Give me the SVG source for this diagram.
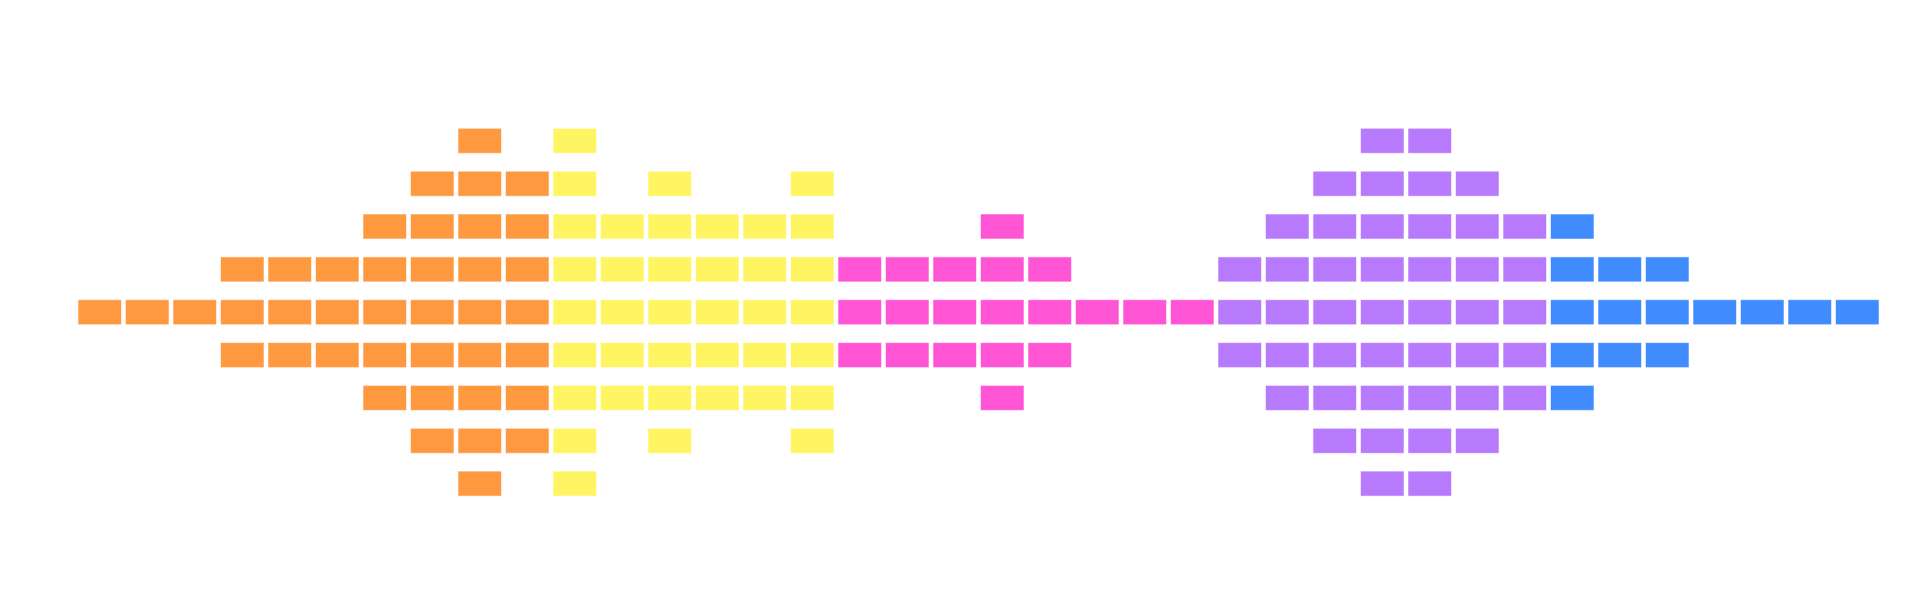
<svg xmlns="http://www.w3.org/2000/svg" width="1920" height="592" viewBox="0 0 1920 592">
<style>
rect{height:25px;width:43.5px;stroke:#fff;stroke-opacity:0.55;stroke-width:1}
.o{fill:#FF9940}.y{fill:#FFF562}.p{fill:#FF55D4}.v{fill:#B77AFC}.b{fill:#408CFF}
</style>
<rect x="0" y="0" width="1920" height="592" style="fill:#fff;stroke:none;width:1920px;height:592px"/>
<g id="orange" class="o">
<g transform="translate(0,128.3)"><rect x="458" class="o"/></g>
<g transform="translate(0,171.2)"><rect x="410.5" class="o"/><rect x="458" class="o"/><rect x="505.5" class="o"/></g>
<g transform="translate(0,214)"><rect x="363" class="o"/><rect x="410.5" class="o"/><rect x="458" class="o"/><rect x="505.5" class="o"/></g>
<g transform="translate(0,256.9)"><rect x="220.5" class="o"/><rect x="268" class="o"/><rect x="315.5" class="o"/><rect x="363" class="o"/><rect x="410.5" class="o"/><rect x="458" class="o"/><rect x="505.5" class="o"/></g>
<g transform="translate(0,299.7)"><rect x="78" class="o"/><rect x="125.5" class="o"/><rect x="173" class="o"/><rect x="220.5" class="o"/><rect x="268" class="o"/><rect x="315.5" class="o"/><rect x="363" class="o"/><rect x="410.5" class="o"/><rect x="458" class="o"/><rect x="505.5" class="o"/></g>
<g transform="translate(0,342.6)"><rect x="220.5" class="o"/><rect x="268" class="o"/><rect x="315.5" class="o"/><rect x="363" class="o"/><rect x="410.5" class="o"/><rect x="458" class="o"/><rect x="505.5" class="o"/></g>
<g transform="translate(0,385.4)"><rect x="363" class="o"/><rect x="410.5" class="o"/><rect x="458" class="o"/><rect x="505.5" class="o"/></g>
<g transform="translate(0,428.3)"><rect x="410.5" class="o"/><rect x="458" class="o"/><rect x="505.5" class="o"/></g>
<g transform="translate(0,471.1)"><rect x="458" class="o"/></g>
</g>
<g id="yellow">
<g transform="translate(0,128.3)"><rect x="553" class="y"/></g>
<g transform="translate(0,171.2)"><rect x="553" class="y"/><rect x="648" class="y"/><rect x="790.5" class="y"/></g>
<g transform="translate(0,214)"><rect x="553" class="y"/><rect x="600.5" class="y"/><rect x="648" class="y"/><rect x="695.5" class="y"/><rect x="743" class="y"/><rect x="790.5" class="y"/></g>
<g transform="translate(0,256.9)"><rect x="553" class="y"/><rect x="600.5" class="y"/><rect x="648" class="y"/><rect x="695.5" class="y"/><rect x="743" class="y"/><rect x="790.5" class="y"/></g>
<g transform="translate(0,299.7)"><rect x="553" class="y"/><rect x="600.5" class="y"/><rect x="648" class="y"/><rect x="695.5" class="y"/><rect x="743" class="y"/><rect x="790.5" class="y"/></g>
<g transform="translate(0,342.6)"><rect x="553" class="y"/><rect x="600.5" class="y"/><rect x="648" class="y"/><rect x="695.5" class="y"/><rect x="743" class="y"/><rect x="790.5" class="y"/></g>
<g transform="translate(0,385.4)"><rect x="553" class="y"/><rect x="600.5" class="y"/><rect x="648" class="y"/><rect x="695.5" class="y"/><rect x="743" class="y"/><rect x="790.5" class="y"/></g>
<g transform="translate(0,428.3)"><rect x="553" class="y"/><rect x="648" class="y"/><rect x="790.5" class="y"/></g>
<g transform="translate(0,471.1)"><rect x="553" class="y"/></g>
</g>
<g id="pink">
<g transform="translate(0,214)"><rect x="980.5" class="p"/></g>
<g transform="translate(0,256.9)"><rect x="838" class="p"/><rect x="885.5" class="p"/><rect x="933" class="p"/><rect x="980.5" class="p"/><rect x="1028" class="p"/></g>
<g transform="translate(0,299.7)"><rect x="838" class="p"/><rect x="885.5" class="p"/><rect x="933" class="p"/><rect x="980.5" class="p"/><rect x="1028" class="p"/><rect x="1075.5" class="p"/><rect x="1123" class="p"/><rect x="1170.5" class="p"/></g>
<g transform="translate(0,342.6)"><rect x="838" class="p"/><rect x="885.5" class="p"/><rect x="933" class="p"/><rect x="980.5" class="p"/><rect x="1028" class="p"/></g>
<g transform="translate(0,385.4)"><rect x="980.5" class="p"/></g>
</g>
<g id="purple">
<g transform="translate(0,128.3)"><rect x="1360.5" class="v"/><rect x="1408" class="v"/></g>
<g transform="translate(0,171.2)"><rect x="1313" class="v"/><rect x="1360.5" class="v"/><rect x="1408" class="v"/><rect x="1455.5" class="v"/></g>
<g transform="translate(0,214)"><rect x="1265.5" class="v"/><rect x="1313" class="v"/><rect x="1360.5" class="v"/><rect x="1408" class="v"/><rect x="1455.5" class="v"/><rect x="1503" class="v"/></g>
<g transform="translate(0,256.9)"><rect x="1218" class="v"/><rect x="1265.5" class="v"/><rect x="1313" class="v"/><rect x="1360.5" class="v"/><rect x="1408" class="v"/><rect x="1455.5" class="v"/><rect x="1503" class="v"/></g>
<g transform="translate(0,299.7)"><rect x="1218" class="v"/><rect x="1265.5" class="v"/><rect x="1313" class="v"/><rect x="1360.5" class="v"/><rect x="1408" class="v"/><rect x="1455.5" class="v"/><rect x="1503" class="v"/></g>
<g transform="translate(0,342.6)"><rect x="1218" class="v"/><rect x="1265.5" class="v"/><rect x="1313" class="v"/><rect x="1360.5" class="v"/><rect x="1408" class="v"/><rect x="1455.5" class="v"/><rect x="1503" class="v"/></g>
<g transform="translate(0,385.4)"><rect x="1265.5" class="v"/><rect x="1313" class="v"/><rect x="1360.5" class="v"/><rect x="1408" class="v"/><rect x="1455.5" class="v"/><rect x="1503" class="v"/></g>
<g transform="translate(0,428.3)"><rect x="1313" class="v"/><rect x="1360.5" class="v"/><rect x="1408" class="v"/><rect x="1455.5" class="v"/></g>
<g transform="translate(0,471.1)"><rect x="1360.5" class="v"/><rect x="1408" class="v"/></g>
</g>
<g id="blue">
<g transform="translate(0,214)"><rect x="1550.5" class="b"/></g>
<g transform="translate(0,256.9)"><rect x="1550.5" class="b"/><rect x="1598" class="b"/><rect x="1645.5" class="b"/></g>
<g transform="translate(0,299.7)"><rect x="1550.5" class="b"/><rect x="1598" class="b"/><rect x="1645.5" class="b"/><rect x="1693" class="b"/><rect x="1740.5" class="b"/><rect x="1788" class="b"/><rect x="1835.5" class="b"/></g>
<g transform="translate(0,342.6)"><rect x="1550.5" class="b"/><rect x="1598" class="b"/><rect x="1645.5" class="b"/></g>
<g transform="translate(0,385.4)"><rect x="1550.5" class="b"/></g>
</g>
<g id="connectors"/>
</svg>
